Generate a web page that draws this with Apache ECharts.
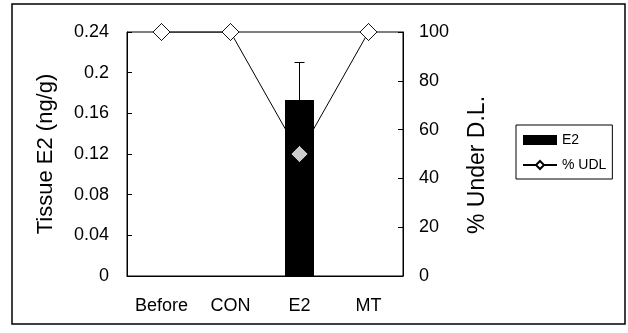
<!DOCTYPE html>
<html>
<head>
<meta charset="utf-8">
<script src="https://cdn.jsdelivr.net/npm/echarts@6/dist/echarts.min.js"></script>
<style>
  html, body { margin: 0; padding: 0; background: #fff; }
  #chart { width: 628px; height: 333px; }
</style>
</head>
<body>
<div id="chart"></div>
<script>
// data
const categories = ['Before', 'CON', 'E2', 'MT']
const tissueE2 = [null, null, 0.173, null]      // ng/g, bars
const tissueE2Upper = [null, null, 0.21, null]  // top of error bar
const pctUDL = [100, 100, 50, 100]             // % under detection limit

const chart = echarts.init(document.getElementById('chart'))
const font = 'Liberation Sans, Arial, sans-serif'

const option = {
  backgroundColor: '#fff',
  animation: false,
  textStyle: { fontFamily: font, color: '#000' },
  graphic: [{
    type: 'rect',
    shape: { x: 12, y: 4, width: 613, height: 320 },
    style: { fill: 'none', stroke: '#000', lineWidth: 1.5 },
    silent: true
  }],
  grid: {
    left: 127, right: 225, top: 32, bottom: 57,
    show: true, borderColor: '#000', borderWidth: 1
  },
  legend: {
    left: 516, top: 125,
    orient: 'vertical',
    padding: [8, 6, 7, 6],
    itemGap: 11,
    itemWidth: 34, itemHeight: 10,
    borderColor: '#000', borderWidth: 1,
    textStyle: { fontSize: 14, color: '#000', fontFamily: font },
    data: [{ name: 'E2', icon: 'rect' }, { name: '% UDL' }]
  },
  xAxis: {
    type: 'category',
    data: categories,
    axisLine: { lineStyle: { color: '#000' } },
    axisTick: { inside: true, length: 5, lineStyle: { color: '#000' } },
    axisLabel: { color: '#000', fontSize: 18, margin: 21, fontFamily: font }
  },
  yAxis: [{
    type: 'value',
    min: 0, max: 0.24, interval: 0.04,
    name: 'Tissue E2 (ng/g)',
    nameLocation: 'middle', nameRotate: 90, nameGap: 70,
    nameTextStyle: { fontSize: 22, color: '#000', fontFamily: font },
    axisLine: { show: true, lineStyle: { color: '#000' } },
    axisTick: { show: true, inside: true, length: 5, lineStyle: { color: '#000' } },
    splitLine: { show: false },
    axisLabel: {
      color: '#000', fontSize: 18, margin: 18, fontFamily: font,
      formatter: v => String(+v.toFixed(2))
    }
  }, {
    type: 'value',
    position: 'right',
    min: 0, max: 100, interval: 20,
    name: '% Under D.L.',
    nameLocation: 'middle', nameRotate: 90, nameGap: 63,
    nameTextStyle: { fontSize: 23, color: '#000', fontFamily: font, padding: [0, 22, 0, 0] },
    axisLine: { show: true, lineStyle: { color: '#000' } },
    axisTick: { show: true, inside: true, length: 5, lineStyle: { color: '#000' } },
    splitLine: { show: false },
    axisLabel: { color: '#000', fontSize: 18, margin: 16, fontFamily: font }
  }],
  series: [
    {
      name: '% UDL',
      type: 'line',
      yAxisIndex: 1,
      data: pctUDL,
      z: 2,
      symbol: 'diamond',
      symbolSize: 17,
      lineStyle: { color: '#000', width: 1 },
      itemStyle: { color: '#fff', borderColor: '#000', borderWidth: 1 }
    },
    {
      name: 'E2',
      type: 'bar',
      data: tissueE2,
      barWidth: 29,
      z: 3,
      itemStyle: { color: '#000' }
    },
    {
      name: 'err',
      type: 'custom',
      data: tissueE2Upper.map((u, i) => [i, tissueE2[i], u]),
      z: 4,
      renderItem: (params, api) => {
        if (api.value(2) == null || isNaN(api.value(2))) return
        const lo = api.coord([api.value(0), api.value(1)])
        const hi = api.coord([api.value(0), api.value(2)])
        const style = { stroke: '#000', lineWidth: 1 }
        return {
          type: 'group',
          children: [
            { type: 'line', shape: { x1: hi[0], y1: lo[1], x2: hi[0], y2: hi[1] }, style },
            { type: 'line', shape: { x1: hi[0] - 5, y1: hi[1], x2: hi[0] + 5, y2: hi[1] }, style }
          ]
        }
      }
    },
    {
      name: 'udlMarks',
      type: 'scatter',
      yAxisIndex: 1,
      data: pctUDL,
      z: 5,
      symbol: 'diamond',
      symbolSize: 17,
      itemStyle: { color: '#fff', borderColor: '#000', borderWidth: 1 }
    }
  ]
}

chart.setOption(option)
</script>
</body>
</html>
